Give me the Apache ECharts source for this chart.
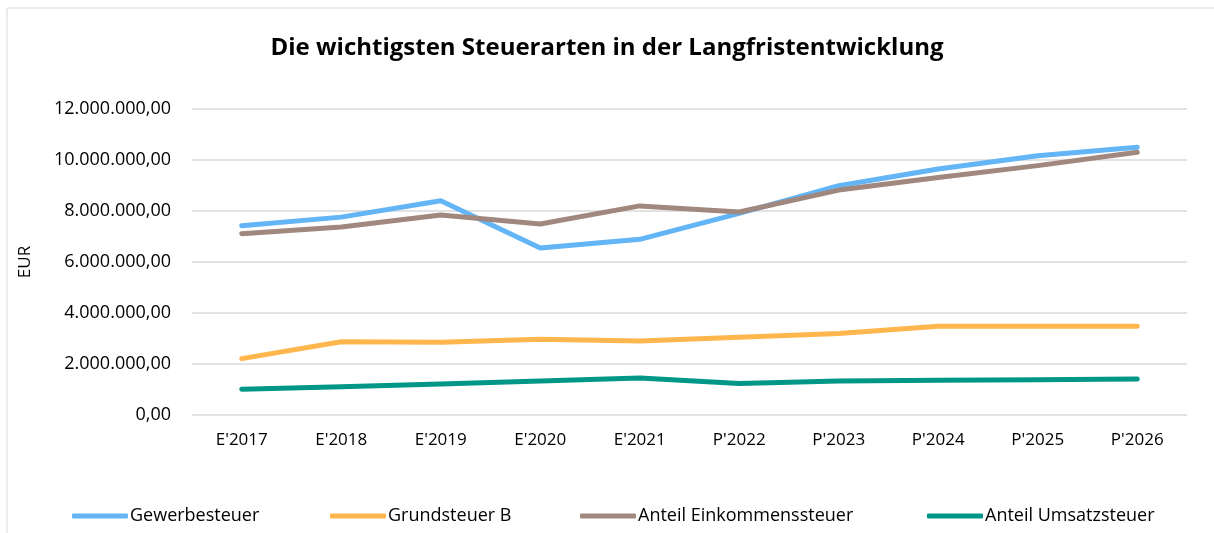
<!DOCTYPE html>
<html>
<head>
<meta charset="utf-8">
<script src="https://cdn.jsdelivr.net/npm/echarts@6/dist/echarts.min.js"></script>
<style>
    html, body { margin: 0; padding: 0; background: #fff; }
    #chart { width: 1214px; height: 533px; }
</style>
</head>
<body>
<div id="chart"></div>
<script>
    // Kategorien (E = Ergebnis, P = Plan)
    var categories = ["E'2017", "E'2018", "E'2019", "E'2020", "E'2021", "P'2022", "P'2023", "P'2024", "P'2025", "P'2026"];

    var gewerbesteuer = [7420000, 7760000, 8400000, 6550000, 6890000, 7910000, 8990000, 9650000, 10170000, 10500000];
    var grundsteuerB = [2210000, 2870000, 2850000, 2970000, 2900000, 3050000, 3200000, 3480000, 3480000, 3480000];
    var einkommensteuer = [7110000, 7370000, 7840000, 7490000, 8200000, 7960000, 8820000, 9310000, 9780000, 10300000];
    var umsatzsteuer = [1010000, 1110000, 1220000, 1330000, 1450000, 1240000, 1330000, 1360000, 1380000, 1410000];

    var seriesNames = ['Gewerbesteuer', 'Grundsteuer B', 'Anteil Einkommenssteuer', 'Anteil Umsatzsteuer'];
    var seriesColors = ['#64B5F6', '#FFB74D', '#A1887F', '#009688'];
    var legendLeft = [72, 330, 580, 927];

    var font = 'Open Sans';

    function fmt(v) {
        var s = Math.round(v).toString().replace(/\B(?=(\d{3})+(?!\d))/g, '.');
        return s + ',00';
    }

    var chart = echarts.init(document.getElementById('chart'));

    var data = [gewerbesteuer, grundsteuerB, einkommensteuer, umsatzsteuer];
    var series = data.map(function (d, i) {
        return {
            name: seriesNames[i],
            type: 'line',
            data: d,
            symbol: 'none',
            lineStyle: { width: 5, color: seriesColors[i], cap: 'round', join: 'round' },
            itemStyle: { color: seriesColors[i] }
        };
    });

    var legends = seriesNames.map(function (n, i) {
        return {
            data: [n],
            left: legendLeft[i],
            top: 507,
            padding: 0,
            icon: 'roundRect',
            itemWidth: 56,
            itemHeight: 5,
            itemGap: 0,
            textStyle: { fontFamily: font, fontSize: 18, color: '#000', padding: [0, 0, 0, -3] }
        };
    });

    var option = {
        animation: false,
        color: seriesColors,
        title: {
            text: 'Die wichtigsten Steuerarten in der Langfristentwicklung',
            left: 'center',
            top: 31,
            textStyle: { fontFamily: font, fontSize: 24, fontWeight: 'bold', color: '#000' }
        },
        graphic: [{
            type: 'rect',
            shape: { x: 7, y: 8, width: 1300, height: 600 },
            style: { fill: 'none', stroke: '#d9d9d9', lineWidth: 1 },
            silent: true
        }],
        legend: legends,
        grid: { left: 192, right: 27, top: 109, bottom: 118 },
        xAxis: {
            type: 'category',
            data: categories,
            boundaryGap: true,
            axisLine: { show: false },
            axisTick: { show: false },
            axisLabel: { fontFamily: font, fontSize: 17, color: '#000', margin: 17 }
        },
        yAxis: {
            type: 'value',
            min: 0,
            max: 12000000,
            interval: 2000000,
            name: 'EUR',
            nameLocation: 'middle',
            nameGap: 158,
            nameRotate: 90,
            nameTextStyle: { fontFamily: font, fontSize: 17, color: '#000' },
            axisLabel: { fontFamily: font, fontSize: 18, color: '#000', margin: 21, formatter: fmt },
            splitLine: { lineStyle: { color: '#d9d9d9', width: 1.5 } }
        },
        series: series
    };

    chart.setOption(option);
</script>
</body>
</html>
